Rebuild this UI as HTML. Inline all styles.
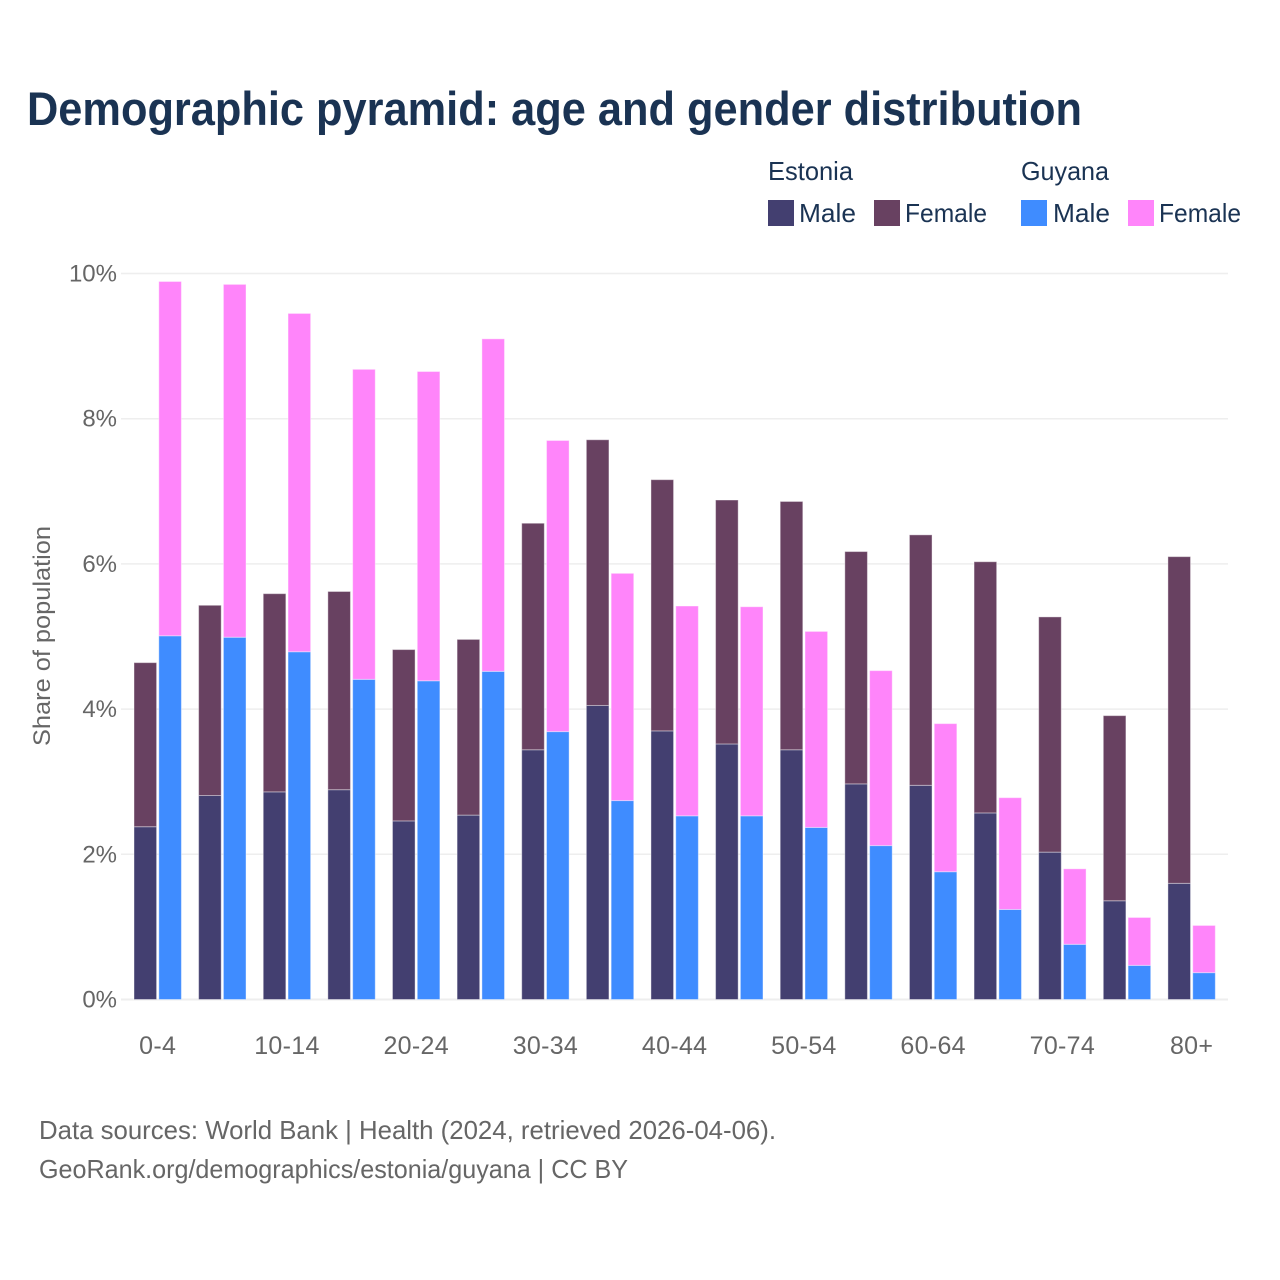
<!DOCTYPE html>
<html lang="en">
<head>
<meta charset="utf-8">
<title>Demographic pyramid</title>
<style>
html,body{margin:0;padding:0;background:#fff;width:1280px;height:1280px;overflow:hidden}
svg{display:block}
text{font-family:"Liberation Sans",sans-serif}
.tick{font-size:24px;fill:#666}
.leg{font-size:26px;fill:#1a3353}
.foot{font-size:26px;fill:#666}
</style>
</head>
<body>
<svg id="chart" width="1280" height="1280" viewBox="0 0 1280 1280" xmlns="http://www.w3.org/2000/svg">
  <text x="27" y="125" font-size="47" font-weight="700" fill="#1a3353" textLength="1055" lengthAdjust="spacingAndGlyphs">Demographic pyramid: age and gender distribution</text>

  <g>
    <text class="leg" x="768" y="180" textLength="85" lengthAdjust="spacingAndGlyphs">Estonia</text>
    <text class="leg" x="1021" y="180" textLength="88" lengthAdjust="spacingAndGlyphs">Guyana</text>
    <rect x="768" y="200" width="26" height="26" fill="#433f70"/>
    <text class="leg" x="799" y="222" textLength="57" lengthAdjust="spacingAndGlyphs">Male</text>
    <rect x="874" y="200" width="26" height="26" fill="#684161"/>
    <text class="leg" x="905" y="222" textLength="82" lengthAdjust="spacingAndGlyphs">Female</text>
    <rect x="1021" y="200" width="26" height="26" fill="#3f8cff"/>
    <text class="leg" x="1053" y="222" textLength="57" lengthAdjust="spacingAndGlyphs">Male</text>
    <rect x="1128" y="200" width="26" height="26" fill="#ff85fa"/>
    <text class="leg" x="1159" y="222" textLength="82" lengthAdjust="spacingAndGlyphs">Female</text>
  </g>

  <g id="grid"></g>
  <g id="yticks"></g>
  <g id="bars"></g>
  <g id="xticks"></g>

  <text class="tick" transform="translate(50,636) rotate(-90)" text-anchor="middle" textLength="220" lengthAdjust="spacingAndGlyphs">Share of population</text>

  <text class="foot" x="39" y="1139" textLength="737" lengthAdjust="spacingAndGlyphs">Data sources: World Bank | Health (2024, retrieved 2026-04-06).</text>
  <text class="foot" x="39" y="1178" textLength="589" lengthAdjust="spacingAndGlyphs">GeoRank.org/demographics/estonia/guyana | CC BY</text>
</svg>
<script>
const ageGroups = ["0-4","5-9","10-14","15-19","20-24","25-29","30-34","35-39","40-44","45-49","50-54","55-59","60-64","65-69","70-74","75-79","80+"];
const estoniaMale = [2.38,2.81,2.86,2.89,2.46,2.54,3.44,4.05,3.70,3.52,3.44,2.97,2.95,2.57,2.03,1.36,1.60];
const estoniaFemale = [2.26,2.62,2.73,2.73,2.36,2.42,3.12,3.66,3.46,3.36,3.42,3.20,3.45,3.46,3.24,2.55,4.50];
const guyanaMale = [5.01,4.99,4.79,4.41,4.39,4.52,3.69,2.74,2.53,2.53,2.37,2.12,1.76,1.24,0.76,0.47,0.37];
const guyanaFemale = [4.88,4.86,4.66,4.27,4.26,4.58,4.01,3.13,2.89,2.88,2.70,2.41,2.04,1.54,1.04,0.66,0.65];
const yTicks = [0,2,4,6,8,10];
const xLabelEvery = 2;

const NS = 'http://www.w3.org/2000/svg';
function yScale(v){ return 999.5 - v * 72.6; }
function xScale(i){ return 134 + i * 64.62; }
const BAR_W = 22.6;
const GUY_OFFSET = 24.8;

function make(tag, attrs, parent){
  const el = document.createElementNS(NS, tag);
  for (const k in attrs) el.setAttribute(k, attrs[k]);
  parent.appendChild(el);
  return el;
}

const gridG = document.getElementById('grid');
const yG = document.getElementById('yticks');
yTicks.forEach(function(t){
  const line = make('line', {x1:121, x2:1228, y1:yScale(t), y2:yScale(t), stroke:'#eeeeee', 'stroke-width': t === 0 ? 2 : 1.5}, gridG);
  
  
  const label = make('text', {x:117, y:yScale(t) + 8, 'text-anchor':'end', 'class':'tick'}, yG);
  label.textContent = t + '%';
  
  
});

const barsG = document.getElementById('bars');
function segment(x, base, value, fill, name){
  const top = yScale(base + value);
  const r = make('rect', {x:x, y:top, width:BAR_W, height:yScale(base) - top, fill:fill, stroke:'rgba(255,255,255,0.4)', 'stroke-width':1}, barsG);
  
  
}
ageGroups.forEach(function(g, i){
  const x = xScale(i);
  segment(x, 0, estoniaMale[i], '#433f70', 'bar-estonia-male');
  segment(x, estoniaMale[i], estoniaFemale[i], '#684161', 'bar-estonia-female');
  segment(x + GUY_OFFSET, 0, guyanaMale[i], '#3f8cff', 'bar-guyana-male');
  segment(x + GUY_OFFSET, guyanaMale[i], guyanaFemale[i], '#ff85fa', 'bar-guyana-female');
});

const xG = document.getElementById('xticks');
ageGroups.forEach(function(g, i){
  if (i % xLabelEvery !== 0) return;
  const label = make('text', {x:xScale(i) + 23.7, y:1054, 'text-anchor':'middle', 'class':'tick', style:'font-size:25px;letter-spacing:.3px'}, xG);
  label.textContent = g;
  
  
});
</script>
</body>
</html>
